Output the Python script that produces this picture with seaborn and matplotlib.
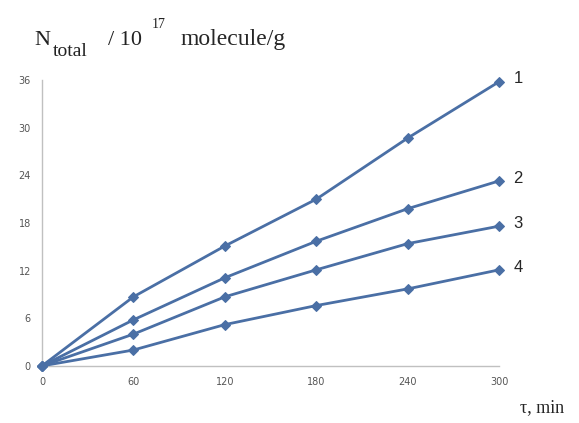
import matplotlib
matplotlib.use("Agg")
import matplotlib.pyplot as plt
import numpy as np
import pandas as pd
import seaborn as sns

# data
time_min = [0, 60, 120, 180, 240, 300]
curve_1 = [0, 8.7, 15.1, 21.0, 28.7, 35.8]
curve_2 = [0, 5.8, 11.1, 15.7, 19.8, 23.3]
curve_3 = [0, 4.0, 8.7, 12.1, 15.4, 17.6]
curve_4 = [0, 2.0, 5.2, 7.6, 9.7, 12.1]
curve_names = ["1", "2", "3", "4"]
x_ticks = [0, 60, 120, 180, 240, 300]
y_ticks = [0, 6, 12, 18, 24, 30, 36]

rows = []
for name, vals in zip(curve_names, [curve_1, curve_2, curve_3, curve_4]):
    for t, v in zip(time_min, vals):
        rows.append({"t": t, "N": v, "curve": name})
df = pd.DataFrame(rows)

sns.set_style("white")
line_color = "#4a6fa5"

fig = plt.figure(figsize=(5.79, 4.23), dpi=100)
ax = fig.add_axes([0.0725, 0.135, 0.79, 0.676])

sns.lineplot(data=df, x="t", y="N", hue="curve", palette=[line_color] * 4,
             marker="D", markersize=5, markeredgecolor=line_color,
             linewidth=2, ax=ax, legend=False, clip_on=False, zorder=3)

ax.set_xlim(0, 300)
ax.set_ylim(0, 36)
ax.set_xticks(x_ticks)
ax.set_yticks(y_ticks)
ax.tick_params(axis="both", labelsize=7, colors="#555555", length=0, pad=8)
ax.set_xlabel("")
ax.set_ylabel("")
for side in ["top", "right"]:
    ax.spines[side].set_visible(False)
for side in ["left", "bottom"]:
    ax.spines[side].set_color("#c0c0c0")
    ax.spines[side].set_linewidth(1)

# curve numbers at the right end of each line
for name, vals in zip(curve_names, [curve_1, curve_2, curve_3, curve_4]):
    ax.annotate(name, xy=(time_min[-1], vals[-1]), xytext=(10, 2),
                textcoords="offset points", fontsize=12,
                family="Liberation Sans", va="center", ha="left",
                annotation_clip=False)

# y-axis title built from pieces (sub/superscript as in the original)
serif = "Liberation Serif"
fig.text(0.060, 0.894, "N", family=serif, fontsize=16,
         ha="left", va="baseline", color="#222222")
fig.text(0.0915, 0.868, "total", family=serif, fontsize=14,
         ha="left", va="baseline", color="#222222")
fig.text(0.1865, 0.894, "/ 10", family=serif, fontsize=16,
         ha="left", va="baseline", color="#222222")
fig.text(0.2625, 0.934, "17", family=serif, fontsize=10,
         ha="left", va="baseline", color="#222222")
fig.text(0.311, 0.894, "molecule/g", family=serif, fontsize=17,
         ha="left", va="baseline")
fig.text(0.975, 0.025, "τ, min", family=serif, fontsize=13,
         ha="right", va="baseline")

fig.savefig("out.png", dpi=100)
plt.close(fig)
